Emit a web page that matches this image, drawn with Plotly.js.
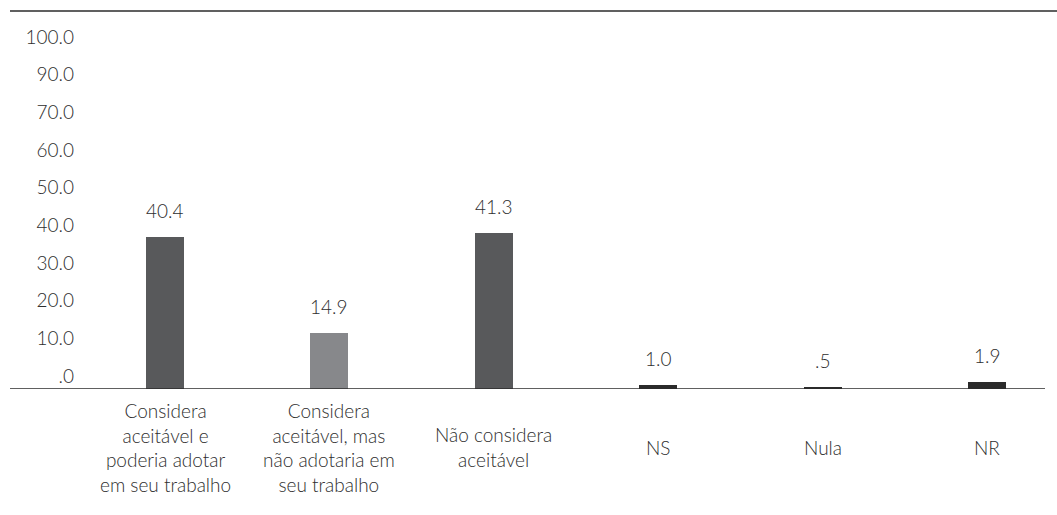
<!DOCTYPE html>
<html>
<head>
<meta charset="utf-8">
<script src="https://cdn.plot.ly/plotly-3.0.1.min.js"></script>
<style>html,body{margin:0;padding:0;background:#fff;}#chart{width:1057px;height:515px;}</style>
</head>
<body>
<div id="chart"></div>
<script>
var categories = [
  "Considera<br>aceitável e<br>poderia adotar<br>em seu trabalho",
  "Considera<br>aceitável, mas<br>não adotaria em<br>seu trabalho",
  "Não considera<br>aceitável",
  "NS",
  "Nula",
  "NR"
];
var values = [40.4, 14.9, 41.3, 1.0, 0.5, 1.9];
var valueLabels = ["40.4", "14.9", "41.3", "1.0", ".5", "1.9"];
var barColors = ["#58595b", "#87888b", "#58595b", "#2b2b2b", "#2b2b2b", "#2b2b2b"];
var yTickLabels = [".0", "10.0", "20.0", "30.0", "40.0", "50.0", "60.0", "70.0", "90.0", "100.0"];

var FONT = "Lato, 'Open Sans', sans-serif";
var TXT = "#2e2e2e";
var FS = 19;
var FW = 300;
var tickOffset = 3.4;
var yTickVals = yTickLabels.map(function(_, i){ return tickOffset + i * 10; });

var annotations = [];
categories.forEach(function(c, i){
  annotations.push({
    x: i, y: values[i], xref: "x", yref: "y",
    text: valueLabels[i], showarrow: false,
    yanchor: "bottom", yshift: 13,
    font: {family: FONT, size: FS, color: TXT, weight: FW}
  });
  annotations.push({
    x: i, y: -58 / 378, xref: "x", yref: "paper",
    text: c, showarrow: false,
    yanchor: "middle", align: "center",
    font: {family: FONT, size: FS, color: TXT, weight: FW}
  });
});

var x0 = (10 - 83) / 962;
var data = [{
  type: "bar",
  x: categories,
  y: values,
  width: 0.231,
  marker: {color: barColors},
  hoverinfo: "none"
}];

var layout = {
  width: 1057, height: 515,
  margin: {l: 83, r: 12, t: 11, b: 126},
  paper_bgcolor: "#fff", plot_bgcolor: "#fff",
  showlegend: false,
  bargap: 0,
  xaxis: {
    type: "category",
    range: [-0.4985, 5.35],
    showticklabels: false,
    showgrid: false, zeroline: false, showline: false, ticks: ""
  },
  yaxis: {
    range: [0, 100.3],
    tickmode: "array",
    tickvals: yTickVals,
    ticktext: yTickLabels,
    showgrid: false, zeroline: false, showline: false, ticks: "",
    ticklabelstandoff: 8,
    tickfont: {family: FONT, size: FS, color: TXT, weight: FW}
  },
  annotations: annotations,
  shapes: [
    {type: "line", xref: "paper", yref: "y", x0: x0, x1: 1, y0: 0, y1: 0,
     line: {color: "#2b2b2b", width: 1.5}},
    {type: "line", xref: "paper", yref: "paper", x0: x0, x1: 1.0125, y0: 1, y1: 1,
     line: {color: "#2b2b2b", width: 1.5}}
  ]
};

Plotly.newPlot("chart", data, layout, {displayModeBar: false, staticPlot: true});
</script>
</body>
</html>
